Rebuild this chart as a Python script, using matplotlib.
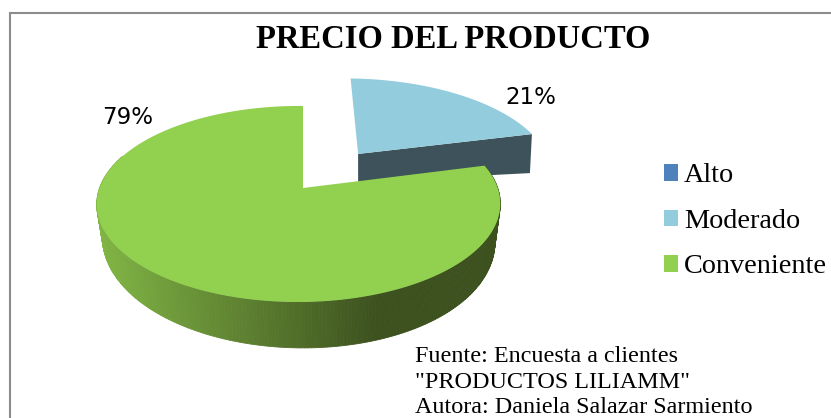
import matplotlib
matplotlib.use('Agg')
import matplotlib.pyplot as plt
from matplotlib.patches import Polygon, Patch
import numpy as np

categorias = ['Alto', 'Moderado', 'Conveniente']
valores = [0, 21, 79]
etiquetas = ['', '21%', '79%']
colores = ['#4F81BD', '#93CDDD', '#92D050']
color_lado_moderado = '#3D525A'

# proyeccion del pastel 3D, en pixeles de la figura
cx, cy = 303, 188
rx, ry = 199.0, 95.4
px, py = 0.022, 0.163
separacion = 0.483
radio_moderado = 1.04


def proyectar(x, y, fondo=0.0, escala=1.0):
    w = 1 + py * y + px * x
    return cx + escala * rx * x / w, cy + fondo - escala * ry * y / w


def arco(ini, fin, n=200):
    t = np.radians(np.linspace(ini, fin, n))
    return np.cos(t), np.sin(t)


def profundidad(x, y):
    return 33 + 3 * x - 16 * y


fig = plt.figure(figsize=(8.31, 4.18), dpi=100)
ax = fig.add_axes([0, 0, 1, 1])
ax.set_xlim(0, 831)
ax.set_ylim(418, 0)
ax.axis('off')

# marco del grafico, solo arriba e izquierda quedan dentro de la figura
ax.plot([9.5, 9.5, 831], [418, 12.5, 12.5], color='#8C8C8C', linewidth=1.5, solid_joinstyle='miter')

# angulos de cada porcion, en sentido horario desde arriba
total = sum(valores)
ang_moderado = 90 - 360 * (valores[0] + valores[1]) / total
ang_medio = (90 + ang_moderado) / 2
ex = separacion * np.cos(np.radians(ang_medio))
ey = separacion * np.sin(np.radians(ang_medio))

# porcion separada: lado plano y cara superior
xa, ya = proyectar(ex, ey)
fin_x = ex + radio_moderado * np.cos(np.radians(ang_moderado))
fin_y = ey + radio_moderado * np.sin(np.radians(ang_moderado))
xb, yb = proyectar(fin_x, fin_y)
lado = [(xa, ya), (xb, yb), (xb - 2, yb + 39), (xa, ya + 28)]
ax.add_patch(Polygon(lado, closed=True, facecolor=color_lado_moderado, edgecolor='none', zorder=2))

ux, uy = arco(90, ang_moderado)
sx, sy = proyectar(ex + radio_moderado * ux, ey + radio_moderado * uy)
cara = np.column_stack([np.r_[xa, sx], np.r_[ya, sy]])
ax.add_patch(Polygon(cara, closed=True, facecolor=colores[1], edgecolor='none', zorder=3))

# pared lateral de la porcion grande, con degradado por franjas
claro = np.array([0x80, 0xB4, 0x44]) / 255
oscuro = np.array([0x3D, 0x51, 0x1F]) / 255
bordes = np.linspace(ang_moderado, -200, 240)
for a0, a1 in zip(bordes[:-1], bordes[1:]):
    ux, uy = arco(a0, a1, 4)
    sup_x, sup_y = proyectar(ux, uy)
    inf_x, inf_y = proyectar(ux, uy, profundidad(ux, uy), 0.973)
    pts = np.column_stack([np.r_[sup_x, inf_x[::-1]], np.r_[sup_y, inf_y[::-1]]])
    f = np.clip((inf_x.mean() - 105) / (375 - 105), 0, 1)
    c = claro + (oscuro - claro) * f
    ax.add_patch(Polygon(pts, closed=True, facecolor=c, edgecolor=c, linewidth=0.6, zorder=4))

# cara superior de la porcion grande
ux, uy = arco(ang_moderado, -270, 400)
sx, sy = proyectar(ux, uy)
cara = np.column_stack([np.r_[cx, sx], np.r_[cy, sy]])
ax.add_patch(Polygon(cara, closed=True, facecolor=colores[2], edgecolor='none', zorder=5))

# etiquetas de porcentaje
ax.text(531, 97, etiquetas[1], fontsize=16.5, family='DejaVu Sans', ha='center', va='center', color='black', zorder=6)
ax.text(128, 117, etiquetas[2], fontsize=16.5, family='DejaVu Sans', ha='center', va='center', color='black', zorder=6)

ax.text(453, 40, 'PRECIO DEL PRODUCTO', fontsize=23.5, fontweight='bold', family='Liberation Serif',
        ha='center', va='center', color='black')

manejadores = [Patch(facecolor=c, edgecolor='none') for c in colores]
ax.legend(manejadores, categorias, loc='upper left', bbox_to_anchor=(664 / 831, 1 - 163.5 / 418), frameon=False,
          prop={'family': 'Liberation Serif', 'size': 20.3}, handlelength=0.5, handleheight=0.5,
          handletextpad=0.21, labelspacing=0.727, borderpad=0, borderaxespad=0)

fuente = ['Fuente: Encuesta a clientes', '"PRODUCTOS LILIAMM"', 'Autora: Daniela Salazar Sarmiento']
for texto, y in zip(fuente, [362, 388, 413]):
    ax.text(415, y, texto, fontsize=17.4, family='Liberation Serif', ha='left', va='baseline', color='black', zorder=6)

fig.savefig('out.png', dpi=100)
